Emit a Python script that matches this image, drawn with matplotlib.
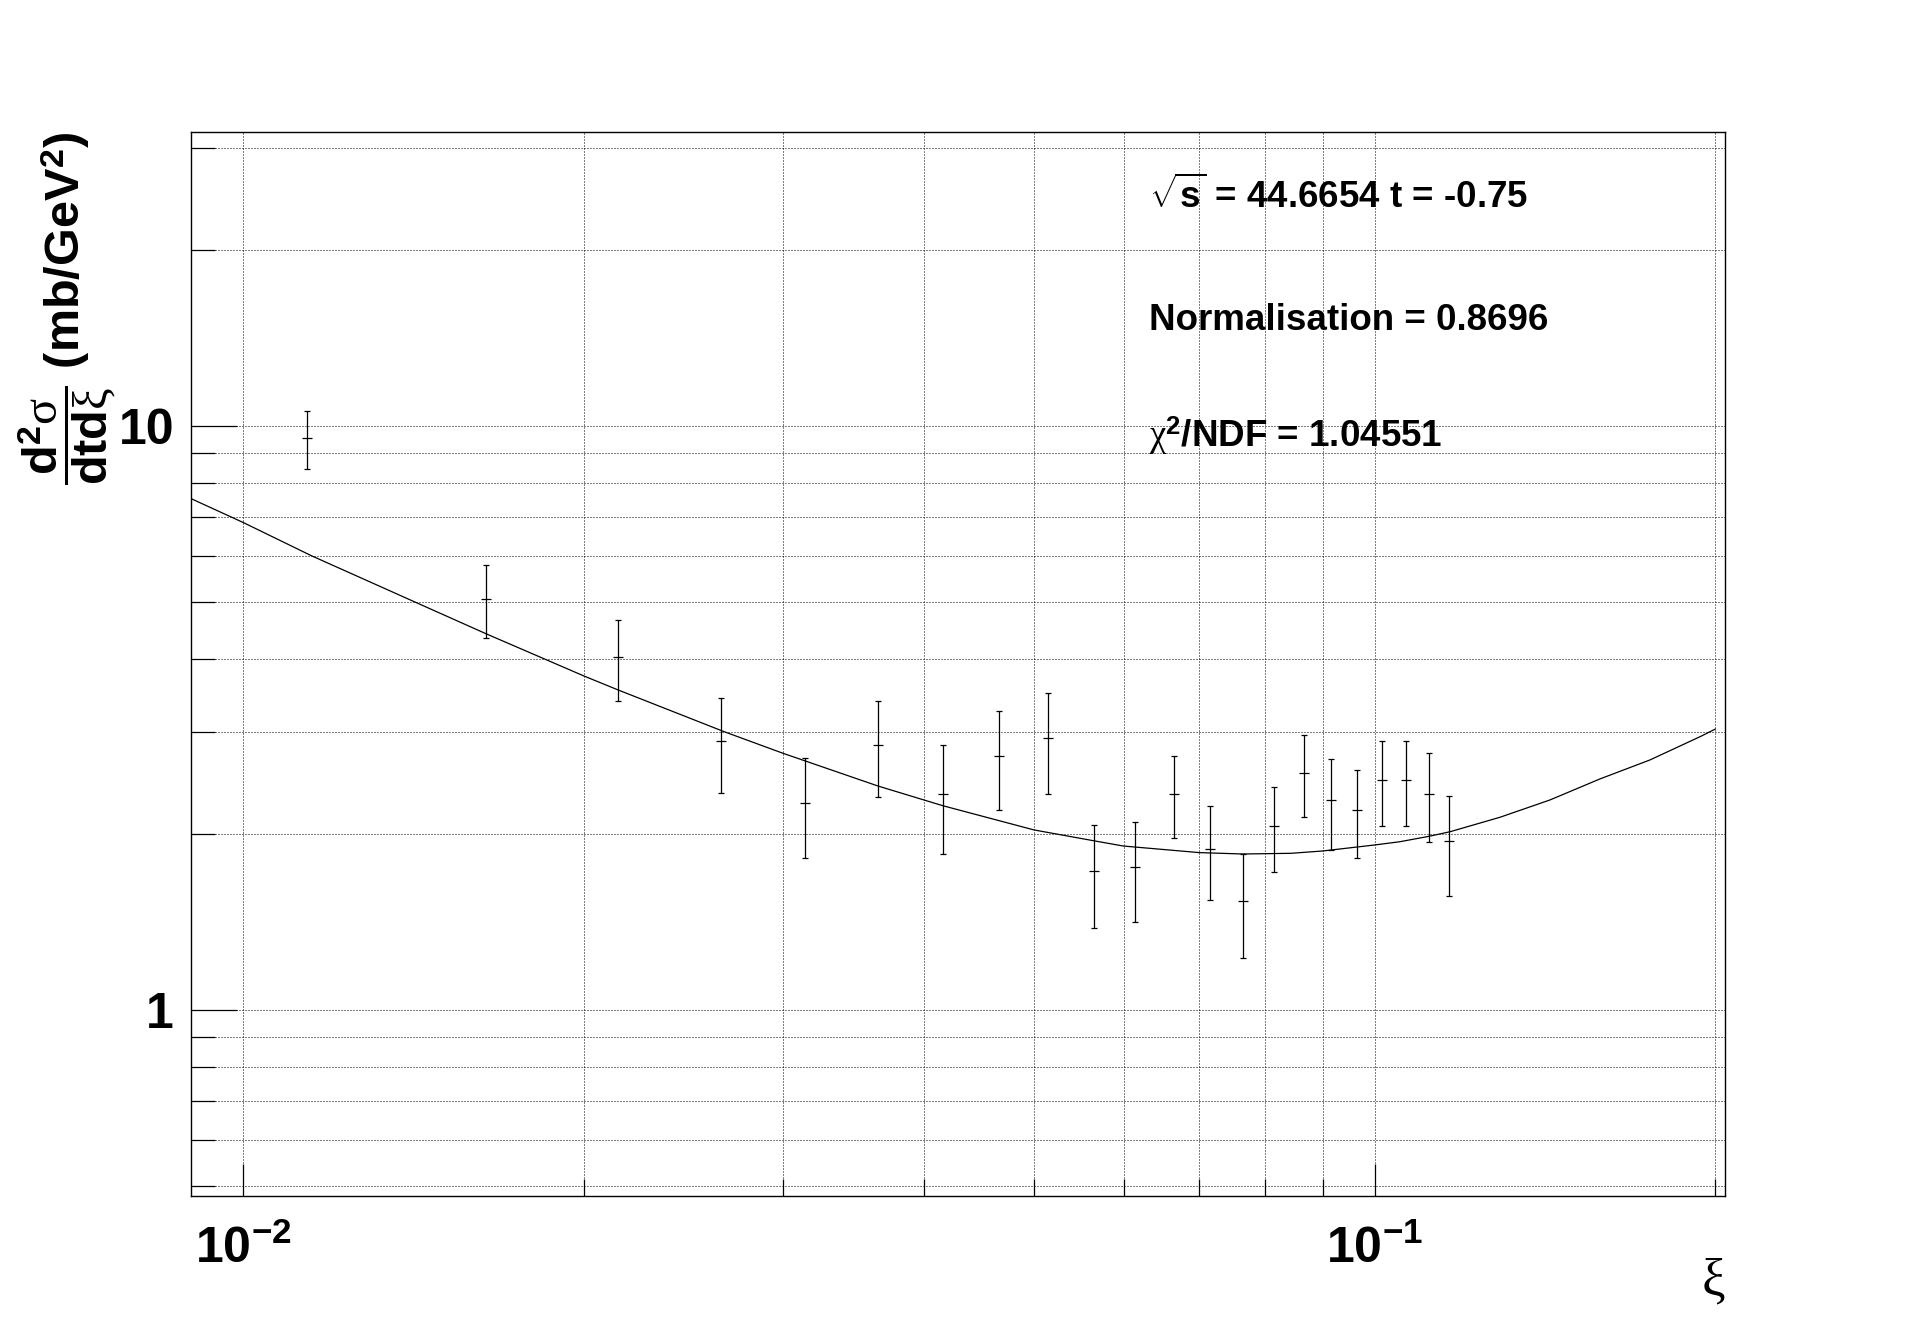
import numpy as np
import matplotlib
matplotlib.use("Agg")
import matplotlib.pyplot as plt
from matplotlib.ticker import FixedLocator, FixedFormatter, NullFormatter

plt.rcParams['font.family'] = ['Liberation Sans', 'DejaVu Sans']
plt.rcParams['mathtext.fontset'] = 'custom'
plt.rcParams['mathtext.rm'] = 'Liberation Serif'
plt.rcParams['mathtext.it'] = 'Liberation Serif:italic'
plt.rcParams['mathtext.bf'] = 'Liberation Sans:bold'

# data points
xi = [0.01139, 0.01640, 0.02144, 0.02642, 0.03138, 0.03639, 0.04153, 0.04656,
      0.05148, 0.05646, 0.06144, 0.06645, 0.07146, 0.07647, 0.08147, 0.08652,
      0.09152, 0.09647, 0.1016, 0.1065, 0.1116, 0.1164]
sigma = [9.54, 5.06, 4.02, 2.89, 2.26, 2.85, 2.35, 2.73, 2.92, 1.73, 1.76,
         2.35, 1.89, 1.54, 2.07, 2.55, 2.29, 2.20, 2.48, 2.48, 2.35, 1.95]
sigma_err = [1.08, 0.72, 0.63, 0.535, 0.44, 0.535, 0.50, 0.53, 0.57, 0.345,
             0.345, 0.375, 0.345, 0.31, 0.345, 0.41, 0.405, 0.38, 0.41, 0.41,
             0.41, 0.38]

# fitted curve
fit_x = [0.009, 0.01, 0.01149, 0.01415, 0.0164, 0.02, 0.02144, 0.0266, 0.03,
         0.03639, 0.04153, 0.05, 0.05646, 0.05996, 0.07, 0.07647, 0.08435,
         0.08994, 0.1, 0.1053, 0.1116, 0.1166, 0.1291, 0.1429, 0.1582, 0.1751,
         0.194, 0.2]
fit_y = [7.51, 6.84, 6.00, 5.01, 4.41, 3.736, 3.536, 3.00, 2.754, 2.421, 2.24,
         2.036, 1.951, 1.911, 1.862, 1.852, 1.857, 1.874, 1.919, 1.944, 1.985,
         2.022, 2.141, 2.292, 2.49, 2.683, 2.942, 3.03]

x_major = [0.01, 0.1]
x_major_labels = [r'$\mathbf{10^{-2}}$', r'$\mathbf{10^{-1}}$']
x_minor = [0.02, 0.03, 0.04, 0.05, 0.06, 0.07, 0.08, 0.09, 0.2]
y_major = [1, 10]
y_major_labels = ['1', '10']
y_minor = [0.5, 0.6, 0.7, 0.8, 0.9, 2, 3, 4, 5, 6, 7, 8, 9, 20, 30]

info = [r'$\sqrt{\mathbf{s}}$ = 44.6654 t = -0.75',
        'Normalisation = 0.8696',
        r'$\mathrm{\chi}^{\mathbf{2}}$/NDF = 1.04551']
info_y = [0.8435, 0.7517, 0.6637]

fig = plt.figure(figsize=(19.16, 13.29), dpi=100)
ax = fig.add_axes([0.0997, 0.1001, 0.8006, 0.8006])

ax.set_xscale('log')
ax.set_yscale('log')
ax.set_xlim(0.00899, 0.204)
ax.set_ylim(0.481, 31.9)

ax.xaxis.set_major_locator(FixedLocator(x_major))
ax.xaxis.set_major_formatter(FixedFormatter(x_major_labels))
ax.xaxis.set_minor_locator(FixedLocator(x_minor))
ax.xaxis.set_minor_formatter(NullFormatter())
ax.yaxis.set_major_locator(FixedLocator(y_major))
ax.yaxis.set_major_formatter(FixedFormatter(y_major_labels))
ax.yaxis.set_minor_locator(FixedLocator(y_minor))
ax.yaxis.set_minor_formatter(NullFormatter())
for lab in ax.get_yticklabels():
    lab.set_fontweight('bold')

ax.grid(True, which='both', color='black', linestyle=(0, (1, 2)), linewidth=0.72)
ax.set_axisbelow(True)

ax.tick_params(axis='both', which='both', direction='in', width=0.9,
               top=False, right=False, labelsize=36)
ax.tick_params(axis='y', which='major', length=33, pad=12.3)
ax.tick_params(axis='y', which='minor', length=17)
ax.tick_params(axis='x', which='major', length=23, pad=21)
ax.tick_params(axis='x', which='minor', length=12)
for s in ax.spines.values():
    s.set_linewidth(1.0)

ax.plot(fit_x, fit_y, color='black', linewidth=0.9)
ax.errorbar(xi, sigma, yerr=sigma_err, fmt='_', color='black', markersize=6.5,
            markeredgewidth=0.9, elinewidth=0.9, capsize=2, capthick=0.9)

for t, yy in zip(info, info_y):
    fig.text(1149 / 1916, yy, t, fontsize=26.5, fontweight='bold', ha='left',
             va='baseline')

fig.text(0.035, 0.9007,
         r'$\dfrac{\mathbf{d}^{\mathbf{2}}\mathrm{\sigma}}{\mathbf{dtd}\mathrm{\xi}}$ (mb/GeV$^{\mathbf{2}}$)',
         rotation=90, ha='center', va='top', fontsize=35, fontweight='bold')
fig.text(0.9003, 0.0354, r'$\mathrm{\xi}$', ha='right', va='center', fontsize=38)

fig.savefig('out.png', dpi=100)
